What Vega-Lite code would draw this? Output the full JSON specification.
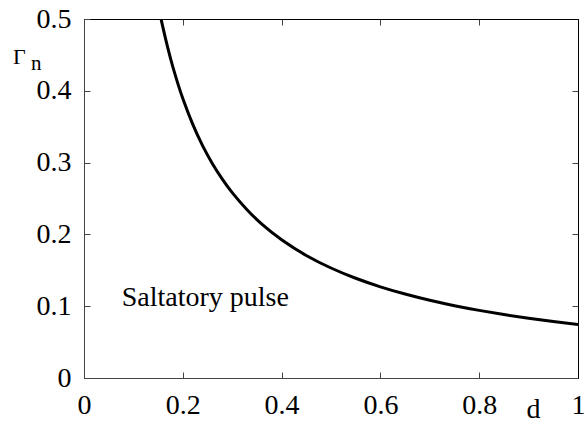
{
  "$schema": "https://vega.github.io/schema/vega-lite/v6.json",
  "width": 494,
  "height": 359,
  "autosize": {"type": "none"},
  "padding": {"left": 84, "top": 19, "right": 8, "bottom": 45},
  "background": "white",
  "config": {
    "view": {"stroke": "black", "strokeWidth": 1},
    "axis": {
      "grid": false,
      "labelColor": "black",
      "labelFlush": false,
      "labelOverlap": false,
      "tickSize": -6,
      "tickColor": "#444",
      "domainColor": "#444",
      "titleFontWeight": "normal",
      "titleColor": "black"
    }
  },
  "datasets": {
    "curve": [
      {"d": 0.156, "g": 0.5},
      {"d": 0.16, "g": 0.4877},
      {"d": 0.17, "g": 0.4587},
      {"d": 0.18, "g": 0.433},
      {"d": 0.19, "g": 0.41},
      {"d": 0.2, "g": 0.3893},
      {"d": 0.22, "g": 0.3535},
      {"d": 0.24, "g": 0.3237},
      {"d": 0.26, "g": 0.2985},
      {"d": 0.28, "g": 0.2769},
      {"d": 0.3, "g": 0.2581},
      {"d": 0.33, "g": 0.2343},
      {"d": 0.36, "g": 0.2144},
      {"d": 0.4, "g": 0.1926},
      {"d": 0.45, "g": 0.1707},
      {"d": 0.5, "g": 0.1532},
      {"d": 0.55, "g": 0.1389},
      {"d": 0.6, "g": 0.127},
      {"d": 0.65, "g": 0.1169},
      {"d": 0.7, "g": 0.1082},
      {"d": 0.75, "g": 0.1007},
      {"d": 0.8, "g": 0.0942},
      {"d": 0.85, "g": 0.0884},
      {"d": 0.9, "g": 0.0832},
      {"d": 0.95, "g": 0.0786},
      {"d": 1.0, "g": 0.0745}
    ],
    "label": [{"text": "Saltatory pulse", "d": 0.0763, "g": 0.1007}],
    "gamma": [{"text": "Γ", "d": -0.1437, "g": 0.4373}],
    "sub": [{"text": "n", "d": -0.1073, "g": 0.4285}]
  },
  "layer": [
    {
      "data": {"name": "curve"},
      "mark": {"type": "line", "color": "black", "strokeWidth": 3, "interpolate": "natural", "clip": true},
      "encoding": {
        "x": {
          "field": "d", "type": "quantitative",
          "scale": {"domain": [0, 1], "nice": false, "zero": false},
          "axis": {
            "orient": "bottom",
            "values": [0, 0.2, 0.4, 0.6, 0.8, 1],
            "format": "~g",
            "labelFont": "Liberation Serif",
            "labelFontSize": 28,
            "labelPadding": 19,
            "title": "d",
            "titleFont": "Liberation Serif",
            "titleFontSize": 28,
            "titleX": 449,
            "titleY": 45,
            "titleAlign": "center",
            "titleBaseline": "bottom",
            "titleAnchor": null
          }
        },
        "y": {
          "field": "g", "type": "quantitative",
          "scale": {"domain": [0, 0.5], "nice": false, "zero": false},
          "axis": {
            "orient": "left",
            "values": [0, 0.1, 0.2, 0.3, 0.4, 0.5],
            "format": "~g",
            "labelFont": "Liberation Serif",
            "labelFontSize": 28,
            "labelPadding": 19,
            "title": null
          }
        }
      }
    },
    {
      "data": {"name": "label"},
      "mark": {"type": "text", "align": "left", "baseline": "alphabetic", "font": "Liberation Serif", "fontSize": 28, "color": "black"},
      "encoding": {
        "x": {
          "field": "d", "type": "quantitative",
          "axis": {
            "orient": "top",
            "values": [0.2, 0.4, 0.6, 0.8],
            "labels": false,
            "title": null,
            "domainColor": "black",
            "tickColor": "#444"
          }
        },
        "y": {
          "field": "g", "type": "quantitative",
          "axis": {
            "orient": "right",
            "values": [0.1, 0.2, 0.3, 0.4],
            "labels": false,
            "title": null,
            "domainColor": "black",
            "tickColor": "#444"
          }
        },
        "text": {"field": "text"}
      }
    },
    {
      "data": {"name": "gamma"},
      "mark": {"type": "text", "align": "left", "baseline": "alphabetic", "font": "Liberation Serif", "fontSize": 22, "color": "black", "clip": false},
      "encoding": {
        "x": {"field": "d", "type": "quantitative", "axis": null},
        "y": {"field": "g", "type": "quantitative", "axis": null},
        "text": {"field": "text"}
      }
    },
    {
      "data": {"name": "sub"},
      "mark": {"type": "text", "align": "left", "baseline": "alphabetic", "font": "Liberation Serif", "fontSize": 21, "color": "black", "clip": false},
      "encoding": {
        "x": {"field": "d", "type": "quantitative", "axis": null},
        "y": {"field": "g", "type": "quantitative", "axis": null},
        "text": {"field": "text"}
      }
    }
  ],
  "resolve": {"axis": {"x": "independent", "y": "independent"}}
}
